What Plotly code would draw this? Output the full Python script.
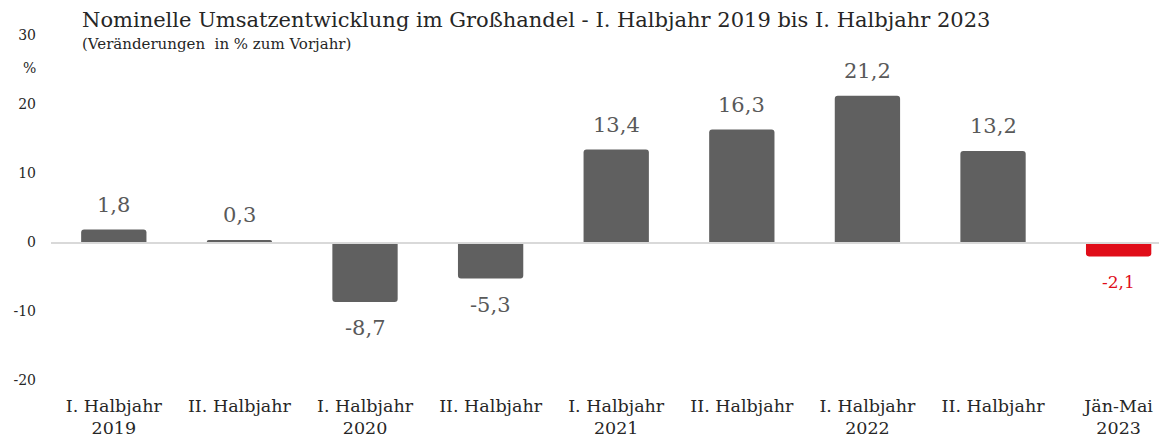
import plotly.graph_objects as go

categories = ["I. Halbjahr<br>2019", "II. Halbjahr", "I. Halbjahr<br>2020", "II. Halbjahr",
              "I. Halbjahr<br>2021", "II. Halbjahr", "I. Halbjahr<br>2022", "II. Halbjahr",
              "Jän-Mai<br>2023"]
values = [1.8, 0.3, -8.7, -5.3, 13.4, 16.3, 21.2, 13.2, -2.1]
y_ticks = [30, 20, 10, 0, -10, -20]
y_tick_labels = ["30", "20", "10", "0", "-10", "-20"]

GREY = "#606060"
RED = "#e00d19"
colors = [GREY] * 8 + [RED]
text_colors = ["#595959"] * 8 + [RED]
text_sizes = [21] * 8 + [17]
labels = [f"{v:.1f}".replace(".", ",") for v in values]
FONT = "DejaVu Serif"

# page body has an 8px default margin -> figure is 8px smaller and offset
fig = go.Figure(go.Bar(
    x=list(range(len(values))), y=values,
    marker=dict(color=colors, line=dict(width=0)),
    width=0.52,
    cliponaxis=False,
))

annotations = []
for i, (v, t) in enumerate(zip(values, labels)):
    annotations.append(dict(
        x=i, y=v, xref="x", yref="y", text=t, showarrow=False,
        yshift=25 if v >= 0 else -26, yanchor="middle", xanchor="center",
        font=dict(family=FONT, size=text_sizes[i], color=text_colors[i]),
    ))

annotations += [
    dict(text="Nominelle Umsatzentwicklung im Großhandel - I. Halbjahr 2019 bis I. Halbjahr 2023",
         xref="paper", yref="paper", x=(80 - 51) / 1116, y=1.0, yshift=15,
         xanchor="left", yanchor="middle", showarrow=False,
         font=dict(family=FONT, size=21, color="#262626")),
    dict(text="(Veränderungen  in % zum Vorjahr)",
         xref="paper", yref="paper", x=(80 - 51) / 1116, y=1.0, yshift=-9,
         xanchor="left", yanchor="middle", showarrow=False,
         font=dict(family=FONT, size=15, color="#262626")),
    dict(text="%", xref="paper", yref="paper", x=0, xshift=-22, y=1.0, yshift=-33,
         xanchor="center", yanchor="middle", showarrow=False,
         font=dict(family=FONT, size=14, color="#262626")),
]

fig.update_layout(
    width=1159, height=431,
    margin=dict(l=43, r=0, t=27, b=59),
    plot_bgcolor="white", paper_bgcolor="white",
    showlegend=False,
    barcornerradius=3,
    font=dict(family=FONT, color="#262626"),
    xaxis=dict(
        tickmode="array", tickvals=list(range(len(values))), ticktext=categories,
        range=[-0.5, 8.385], showgrid=False, zeroline=False, showline=False,
        ticks="", tickfont=dict(family=FONT, size=17.5, color="#262626"),
        ticklabelstandoff=13, automargin=False,
    ),
    yaxis=dict(
        range=[-20, 30], tickmode="array", tickvals=y_ticks, ticktext=y_tick_labels,
        showgrid=False, zeroline=False,
        showline=False, ticks="", tickfont=dict(family=FONT, size=14, color="#262626"),
        ticklabelstandoff=14, automargin=False,
    ),
    shapes=[dict(type="line", xref="paper", yref="y", x0=0, x1=0.995, y0=-0.15, y1=-0.15,
                 line=dict(color="#d9d9d9", width=2), layer="above")],
    annotations=annotations,
)

fig.write_html("out.html")
